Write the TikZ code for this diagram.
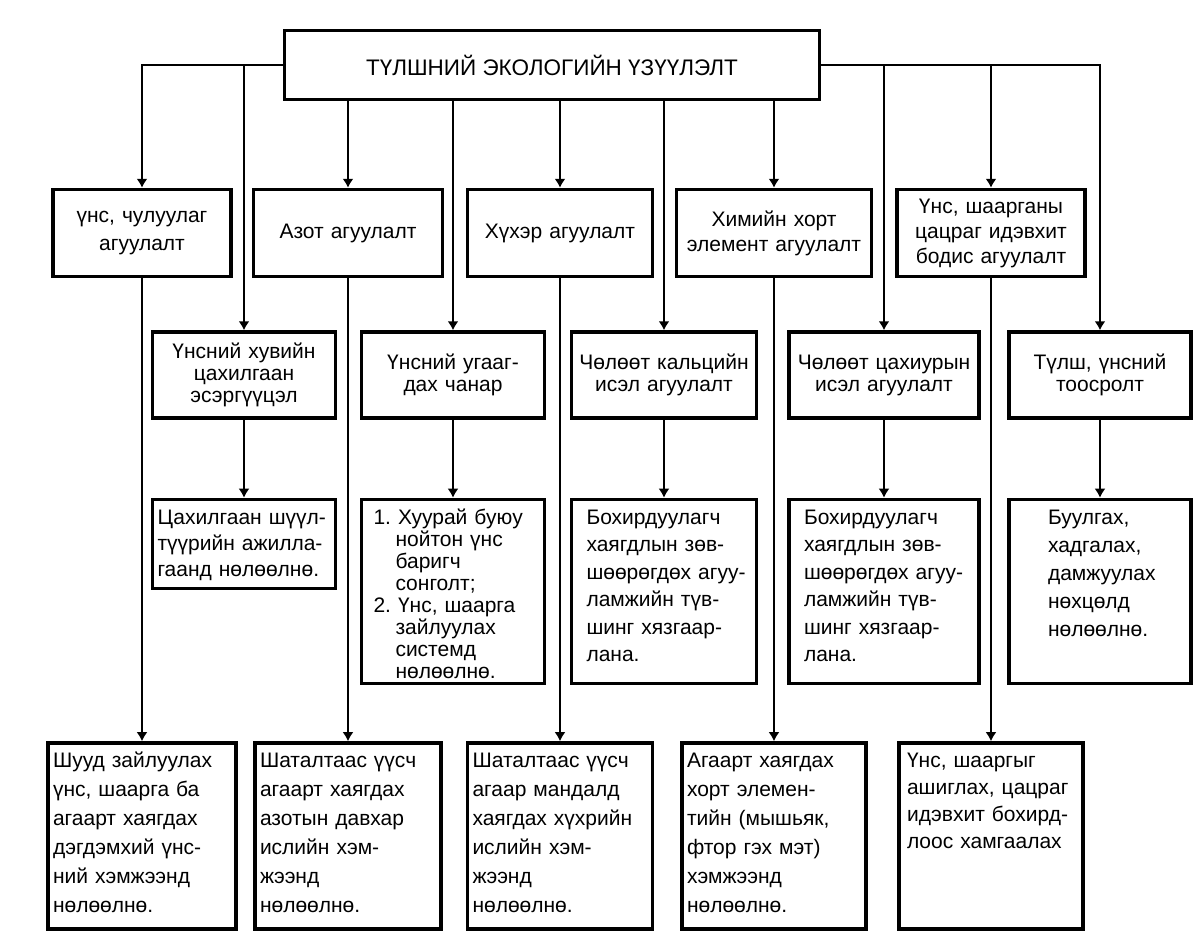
\documentclass[tikz,border=0pt]{standalone}
\usepackage{fontspec}
\setmainfont{Liberation Sans}
\usepackage{tikz}
\usetikzlibrary{arrows.meta, positioning}

\begin{document}
\begin{tikzpicture}[
    x=1pt, y=-1pt,
    every node/.style={font=\fontsize{21}{27}\selectfont},
    headblock/.style={draw, line width=3.4pt, minimum width=535pt, minimum height=69pt, font=\fontsize{22.5}{26}\selectfont},
    block/.style={draw, line width=3.4pt, align=center, inner xsep=5pt, minimum height=87pt, text width=175pt, font=\fontsize{21}{25}\selectfont},
    midblock/.style={block, minimum height=86pt, font=\fontsize{21}{22}\selectfont},
    effblock/.style={draw, line width=3.4pt, align=left, inner xsep=5pt, inner ysep=8pt, text width=175pt, text height=17pt, text depth=#1},
    pushin/.style={execute at begin node={\leftskip=#1\relax}},
    arrow/.style={-{Latex[length=9pt, width=11pt]}, line width=2.6pt}
]

    \useasboundingbox (0,0) rectangle (1198,935);

    % Title
    \node[headblock] (title) at (552,65) {ТҮЛШНИЙ ЭКОЛОГИЙН ҮЗҮҮЛЭЛТ};

    % First row
    \node[block, text width=168pt, font=\fontsize{21}{28}\selectfont] (p_ash) at (142,233) {үнс, чулуулаг\\агуулалт};
    \node[block, text width=179pt] (p_n) at (348,233) {Азот агуулалт};
    \node[block] (p_s) at (560,233) {Хүхэр агуулалт};
    \node[block, text width=185pt] (p_tox) at (774,233) {Химийн хорт\\элемент агуулалт};
    \node[block, text width=178pt] (p_rad) at (991,233) {Үнс, шаарганы\\цацраг идэвхит\\бодис агуулалт};

    % Second row
    \node[midblock, text width=173pt] (p_res) at (244,375) {Үнсний хувийн\\цахилгаан\\эсэргүүцэл};
    \node[midblock, text width=173pt] (p_wash) at (453,375) {Үнсний угааг-\\дах чанар};
    \node[midblock] (p_ca) at (664,375) {Чөлөөт кальцийн\\исэл агуулалт};
    \node[midblock, text width=180pt] (p_si) at (884,375) {Чөлөөт цахиурын\\исэл агуулалт};
    \node[midblock, text width=172pt] (p_dust) at (1100,375) {Түлш, үнсний\\тоосролт};

    % Third row
    \node[effblock=56pt, text width=173pt, below=78pt of p_res, font=\fontsize{21}{26}\selectfont] (e_res) {Цахилгаан шүүл-\\түүрийн ажилла-\\гаанд нөлөөлнө.};
    \node[effblock=151pt, text width=173pt, below=78pt of p_wash, pushin=7pt, font=\fontsize{21}{22}\selectfont] (e_wash) {1.\ Хуурай буюу\\\hspace*{22pt}нойтон үнс\\\hspace*{22pt}баригч\\\hspace*{22pt}сонголт;\\2.\ Үнс, шаарга\\\hspace*{22pt}зайлуулах\\\hspace*{22pt}системд\\\hspace*{22pt}нөлөөлнө.};
    \node[effblock=151pt, below=78pt of p_ca, pushin=10pt, font=\fontsize{21}{27.5}\selectfont] (e_ca) {Бохирдуулагч\\хаягдлын зөв-\\шөөрөгдөх агуу-\\ламжийн түв-\\шинг хязгаар-\\лана.};
    \node[effblock=151pt, text width=180pt, below=78pt of p_si, pushin=10pt, font=\fontsize{21}{27.5}\selectfont] (e_si) {Бохирдуулагч\\хаягдлын зөв-\\шөөрөгдөх агуу-\\ламжийн түв-\\шинг хязгаар-\\лана.};
    \node[effblock=151pt, text width=172pt, below=78pt of p_dust, pushin=34pt, font=\fontsize{21}{28}\selectfont] (e_dust) {Буулгах,\\хадгалах,\\дамжуулах\\нөхцөлд\\нөлөөлнө.};

    % Fourth row
    \node[effblock=153pt, text width=178pt, below=463pt of p_ash, font=\fontsize{21}{29}\selectfont] (e_ash) {Шууд зайлуулах\\үнс, шаарга ба\\агаарт хаягдах\\дэгдэмхий үнс-\\ний хэмжээнд\\нөлөөлнө.};
    \node[effblock=153pt, text width=176pt, below=463pt of p_n, font=\fontsize{21}{29}\selectfont] (e_n) {Шаталтаас үүсч\\агаарт хаягдах\\азотын давхар\\ислийн хэм-\\жээнд\\нөлөөлнө.};
    \node[effblock=153pt, below=463pt of p_s, font=\fontsize{21}{29}\selectfont] (e_s) {Шаталтаас үүсч\\агаар мандалд\\хаягдах хүхрийн\\ислийн хэм-\\жээнд\\нөлөөлнө.};
    \node[effblock=153pt, text width=174pt, below=463pt of p_tox, font=\fontsize{21}{29}\selectfont] (e_tox) {Агаарт хаягдах\\хорт элемен-\\тийн (мышьяк,\\фтор гэх мэт)\\хэмжээнд\\нөлөөлнө.};
    \node[effblock=153pt, text width=174pt, below=463pt of p_rad, pushin=3pt, font=\fontsize{21}{27}\selectfont] (e_rad) {Үнс, шааргыг\\ашиглах, цацраг\\идэвхит бохирд-\\лоос хамгаалах};

    % From the title
    \draw[arrow] (title.west) -| (p_ash);
    \draw[arrow] (title.west) -| (p_res);
    \draw[arrow] (title.south -| p_n) -- (p_n);
    \draw[arrow] (title.south -| p_wash) -- (p_wash);
    \draw[arrow] (title.south -| p_s) -- (p_s);
    \draw[arrow] (title.south -| p_ca) -- (p_ca);
    \draw[arrow] (title.south -| p_tox) -- (p_tox);
    \draw[arrow] (title.east) -| (p_si);
    \draw[arrow] (title.east) -| (p_rad);
    \draw[arrow] (title.east) -| (p_dust);

    % Down to the effects
    \draw[arrow] (p_ash) -- (e_ash);
    \draw[arrow] (p_n) -- (e_n);
    \draw[arrow] (p_s) -- (e_s);
    \draw[arrow] (p_tox) -- (e_tox);
    \draw[arrow] (p_rad) -- (e_rad);
    \draw[arrow] (p_res) -- (e_res);
    \draw[arrow] (p_wash) -- (e_wash);
    \draw[arrow] (p_ca) -- (e_ca);
    \draw[arrow] (p_si) -- (e_si);
    \draw[arrow] (p_dust) -- (e_dust);

\end{tikzpicture}
\end{document}
